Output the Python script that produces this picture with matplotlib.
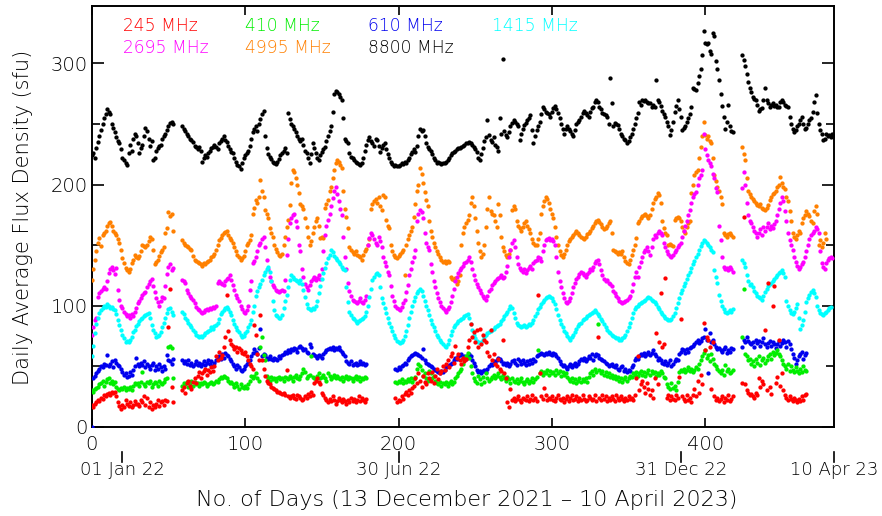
import numpy as np
import matplotlib
matplotlib.use("Agg")
import matplotlib.pyplot as plt
from matplotlib.ticker import MultipleLocator
from matplotlib.transforms import blended_transform_factory

plt.rcParams['font.family'] = ['DejaVu Sans']
plt.rcParams['font.weight'] = 'light'

N = None  # missing day

# Daily average flux density (sfu), day 0 = 13 Dec 2021 ... day 484 = 10 Apr 2023
f245 = [
    18,16,19,20,22,21,24,23,26,25, 27,28,26,29,28,29,25,20,17,15,
    18,16,22,19,17,20,16,18,21,19, 19,17,22,20,25,18,24,16,20,15,
    18,16,19,22,17,20,21,18,22,21, 82,114,33,20,N,N,N,N,N,30,
    33,28,36,38,34,31,37,40,36,42, 45,40,44,46,48,43,47,45,49,46,
    50,58,55,62,57,59,66,74,109,79, 72,68,67,64,66,62,65,63,61,60,
    62,58,55,52,50,48,84,76,60,55, 92,55,48,42,38,36,35,33,32,31,
    30,29,29,28,27,28,26,47,25,24, 25,26,24,23,26,25,24,22,23,25,
    24,27,25,29,26,36,38,40,37,35, 28,26,24,22,20,23,21,25,22,19,
    21,24,22,20,23,21,19,22,20,24, 21,23,20,22,25,21,24,22,20,23,
    N,N,N,N,N,N,N,N,N,N, N,N,N,N,N,N,N,N,24,20,
    22,21,25,23,27,29,26,30,28,32, 34,40,36,44,38,33,42,37,35,44,
    40,38,45,36,42,48,39,44,46,50, 47,52,55,49,58,61,53,67,57,60,
    55,52,57,54,56,66,72,85,74,78, 70,80,66,81,68,76,72,70,62,58,
    80,55,60,52,50,56,48,46,72,44, 40,20,16,31,22,24,21,23,25,22,
    20,24,23,22,25,21,23,26,22,24, 21,109,44,25,23,32,26,22,24,23,
    25,22,21,24,26,23,22,24,20,23, 25,21,24,26,22,23,25,21,24,22,
    26,23,21,22,25,24,22,23,26,21, 74,24,22,26,23,25,21,24,22,25,
    23,21,26,24,22,25,23,21,24,22, 25,23,24,22,26,40,58,30,35,38,
    33,28,36,31,26,30,24,40,77,35, 70,110,66,68,123,24,26,22,25,23,
    22,26,24,41,89,25,23,21,26,22, 24,20,26,31,25,38,28,43,35,86,
    63,74,72,66,31,70,25,22,24,21, 23,25,20,24,22,26,21,23,25,N,
    N,N,N,N,36,173,35,30,28,26, 27,25,24,28,26,40,33,38,35,80,
    30,119,33,27,100,116,36,41,72,34, 44,30,26,24,22,25,23,21,24,22,
    20,23,21,25,22,26,27,N,N,N, N,N,N,N,N,N,N,N,N,N,
    N,N,N,N,N,
]

f410 = [
    30,29,31,32,33,35,36,38,34,37, 39,40,36,38,35,37,33,31,30,32,
    31,33,30,32,31,33,30,34,36,35, 36,34,37,45,35,34,37,36,38,33,
    35,37,36,34,38,36,35,37,39,40, 66,67,65,40,N,N,N,N,N,34,
    36,35,37,33,36,38,34,37,35,36, 34,36,35,37,36,34,35,36,37,35,
    36,38,37,39,41,40,42,41,40,38, 36,37,35,33,36,34,31,35,33,32,
    34,32,35,38,42,40,42,44,40,38, 66,74,59,55,42,40,38,41,39,40,
    38,40,41,39,40,38,41,40,39,42, 40,38,41,43,40,39,42,44,48,45,
    40,42,43,58,41,40,39,42,44,40, 41,43,40,38,44,42,39,41,43,40,
    42,40,39,41,38,40,42,39,41,40, 38,40,42,39,41,38,40,39,41,40,
    N,N,N,N,N,N,N,N,N,N, N,N,N,N,N,N,N,N,37,36,
    38,37,39,36,38,37,39,38,40,37, 39,41,48,52,50,47,42,44,40,38,
    46,44,40,42,38,36,35,37,34,36, 35,37,34,36,38,35,37,40,42,44,
    46,48,52,55,58,61,57,50,44,40, 38,36,42,39,35,41,37,44,40,38,
    39,41,43,40,42,44,41,39,43,40, 38,41,39,36,40,38,37,39,36,38,
    40,37,35,38,39,36,38,40,37,39, 41,63,44,46,43,45,44,47,43,46,
    44,45,43,47,44,46,42,45,43,44, 41,39,38,40,37,39,36,38,40,37,
    39,38,40,37,41,44,46,43,48,45, 85,47,44,46,43,45,42,44,41,43,
    40,42,39,41,38,40,37,39,41,38, 40,42,41,44,43,45,42,44,46,43,
    45,42,44,47,43,46,44,45,42,44, 43,46,44,41,40,35,33,31,36,32,
    34,30,37,45,47,46,48,45,47,49, 46,48,45,47,49,48,52,55,58,61,
    63,57,59,54,60,56,52,50,48,46, 44,47,43,51,46,48,44,45,47,N,
    N,N,N,N,74,114,60,58,55,56, 52,54,50,56,53,58,51,55,57,53,
    55,58,60,56,62,59,61,63,60,58, 55,52,50,48,52,46,50,47,45,49,
    46,44,48,45,50,47,46,N,N,N, N,N,N,N,N,N,N,N,N,N,
    N,N,N,N,N,
]

f610 = [
    0,40,42,44,46,48,50,49,52,51, 59,50,52,54,49,55,53,51,50,48,
    45,43,44,41,42,45,43,47,50,57, 52,50,53,51,54,49,52,50,48,51,
    53,47,50,48,52,49,46,50,48,59, 55,54,52,56,N,N,N,N,N,55,
    53,54,52,55,51,53,50,52,54,51, 53,50,52,54,51,53,55,52,54,50,
    53,55,57,58,56,60,57,61,59,58, 56,54,52,50,48,51,49,47,46,48,
    50,52,54,55,58,61,64,62,60,65, 81,58,60,59,57,56,58,56,55,57,
    56,55,58,57,59,60,62,61,63,62, 64,63,65,64,62,66,67,65,63,64,
    62,61,68,66,60,59,58,57,59,58, 57,60,62,63,64,65,64,66,63,65,
    64,66,63,62,60,58,54,53,52,54, 51,52,53,51,52,54,52,53,51,52,
    N,N,N,N,N,N,N,N,N,N, N,N,N,N,N,N,N,N,48,47,
    49,48,50,51,53,52,55,57,58,59, 60,61,60,59,58,57,64,55,53,52,
    51,50,49,48,47,46,45,44,46,45, 47,49,50,51,52,53,55,57,56,58,
    59,60,57,58,56,59,60,58,55,53, 50,47,45,46,44,46,47,45,48,50,
    52,51,54,53,55,57,56,54,52,53, 51,53,50,52,54,55,53,51,56,54,
    52,55,53,51,54,52,55,53,56,54, 58,59,60,61,60,59,61,60,62,60,
    59,61,60,58,57,54,52,50,51,49, 48,50,52,49,51,53,50,52,54,56,
    55,57,54,56,58,57,60,55,58,60, 59,57,56,55,54,53,52,50,51,52,
    50,49,51,48,47,49,50,46,48,45, 47,46,49,51,55,57,56,58,60,59,
    61,58,60,62,59,61,63,60,58,55, 57,55,53,52,54,51,53,55,50,52,
    54,56,55,60,62,64,63,61,64,62, 65,66,67,68,70,72,69,71,73,74,
    81,72,44,77,70,72,68,66,64,65, 63,62,64,66,61,63,62,65,64,N,
    N,N,N,N,66,72,70,74,71,69, 68,70,66,72,69,71,67,70,73,68,
    66,69,71,67,70,68,65,68,71,67, 69,72,70,66,71,68,64,60,57,52,
    55,58,60,62,56,59,61,N,N,N, N,N,N,N,N,N,N,N,N,N,
    N,N,N,N,N,
]

f1415 = [
    58,67,77,85,90,94,96,98,100,99, 101,100,98,99,97,96,93,88,84,80,
    76,73,70,71,70,72,74,78,80,83, 85,87,89,90,91,92,93,94,90,84,
    80,77,74,75,76,78,82,86,90,94, 97,98,95,92,N,N,N,N,N,95,
    93,90,88,86,84,82,80,78,76,75, 74,75,74,76,77,78,79,80,82,81,
    83,84,86,89,93,95,96,98,99,97, 95,92,88,85,82,80,78,76,74,75,
    77,79,82,85,88,95,100,108,112,115, 118,121,125,128,130,132,128,120,104,96,
    92,91,90,90,92,98,104,109,115,121, 125,124,122,121,120,119,121,118,113,107,
    101,98,97,96,98,97,100,104,110,116, 122,127,131,135,139,142,146,144,141,139,
    138,136,134,132,130,129,115,103,95,92, 90,89,87,86,87,88,89,90,91,95,
    100,107,114,121,124,126,127,125,115,106, 102,98,94,90,86,82,79,76,73,71,
    70,69,70,72,75,79,84,90,95,100, 104,107,110,112,114,112,108,104,100,96,
    92,88,85,82,79,76,74,72,70,68, 67,66,68,72,76,79,82,84,86,87,
    88,89,90,91,92,93,90,85,80,76, 73,71,70,69,70,72,74,76,77,78,
    79,80,81,82,83,84,85,87,89,91, 93,95,97,100,98,94,90,86,84,83,
    82,83,84,82,83,85,84,86,88,91, 94,97,99,101,103,105,106,107,108,107,
    106,104,101,97,92,88,85,82,79,77, 75,73,72,74,76,78,81,83,85,86,
    88,89,90,91,92,93,94,95,96,95, 93,91,89,87,85,82,80,78,77,76,
    75,74,73,73,72,72,73,74,76,79, 82,86,90,94,97,99,100,101,102,103,
    104,105,106,107,106,105,104,103,101,99, 97,95,93,91,90,89,88,88,89,91,
    94,98,102,106,110,113,116,119,122,125, 128,131,134,137,140,143,146,149,152,154,
    153,152,150,148,146,144,129,124,119,109, 104,100,97,95,94,95,96,95,97,N,
    N,N,N,N,138,135,132,125,120,117, 118,115,112,110,108,107,106,105,108,111,
    114,116,118,119,120,122,124,125,127,128, 129,127,124,104,100,96,94,93,95,98,
    101,90,81,84,88,95,103,106,109,111, 113,110,107,100,96,94,93,92,94,95,
    96,98,99,N,N,
]

f2695 = [
    76,82,88,90,107,110,112,114,115,114, 120,127,130,132,129,126,131,113,105,100,
    98,95,93,91,92,90,93,91,95,98, 102,104,106,109,110,111,115,118,120,122,
    116,111,106,103,100,104,107,106,116,126, 132,134,129,131,N,N,N,N,N,121,
    120,119,113,110,108,106,105,102,99,97, 96,95,94,95,96,97,96,98,97,99,
    98,100,119,120,119,118,117,120,122,123, 125,121,117,113,109,106,104,100,97,95,
    94,96,100,113,120,135,137,140,145,150, 152,155,157,148,138,130,124,120,117,115,
    113,112,111,112,113,112,121,142,155,168, 172,175,176,170,165,150,145,130,124,118,
    115,113,117,120,122,124,121,123,125,122, 130,145,158,166,171,176,182,189,195,198,
    192,186,180,175,157,140,130,119,112,108, 105,104,103,102,104,106,103,102,105,108,
    150,156,160,158,155,152,150,157,153,148, 140,136,133,128,125,116,108,104,100,98,
    97,96,99,102,105,111,117,125,130,136, 140,146,170,176,179,177,172,160,152,148,
    146,134,128,120,115,110,106,103,100,98, 96,95,97,99,103,108,114,120,124,127,
    129,131,133,135,136,138,140,136,130,125, 121,118,115,113,110,108,106,105,108,112,
    114,117,119,120,122,123,124,125,123,124, 128,133,140,146,152,154,148,140,134,131,
    129,128,130,127,129,131,133,130,135,137, 138,140,139,137,145,150,154,155,156,154,
    155,153,150,140,128,120,115,110,106,103, 102,104,106,110,115,119,122,124,126,128,
    127,125,124,126,128,130,129,132,135,137, 138,134,129,125,122,120,121,119,118,116,
    112,110,108,106,104,103,102,103,104,105, 106,108,112,118,124,128,124,132,136,140,
    144,146,148,145,142,148,155,158,157,160, 162,160,158,152,148,145,143,141,140,142,
    144,146,148,150,152,157,162,166,170,175, 179,185,190,192,194,200,205,208,212,242,
    229,224,220,218,215,209,205,197,194,166, 154,140,132,130,131,129,132,130,128,N,
    N,N,N,N,197,210,200,185,175,170, 168,165,162,160,157,160,163,158,165,162,
    165,168,163,166,164,167,170,175,180,185, 190,186,178,170,160,154,150,146,140,136,
    133,130,132,134,136,140,145,150,155,158, 160,162,165,163,160,145,135,132,130,135,
    138,139,140,139,N,
]

f4995 = [
    121,130,138,145,152,156,149,158,160,162, 166,168,169,166,162,160,158,155,152,146,
    139,135,131,129,128,130,135,138,142,140, 139,141,145,150,149,148,150,153,157,155,
    146,134,136,138,141,144,146,148,160,164, 177,174,176,162,N,N,N,N,N,154,
    152,150,149,148,147,146,141,138,137,136, 135,134,133,135,134,136,137,138,140,141,
    143,146,150,154,156,158,160,161,162,158, 156,154,152,148,145,142,140,138,139,141,
    145,150,152,154,158,176,181,187,185,190, 204,195,190,179,176,172,164,160,157,150,
    147,144,142,141,143,150,157,165,171,183, 201,212,210,205,200,193,184,182,180,172,
    165,157,150,153,160,165,170,172,166,156, 157,156,181,184,187,195,198,205,212,218,
    220,219,216,214,195,180,173,164,148,146, 144,143,145,142,141,140,138,142,145,147,
    150,155,180,184,186,188,185,190,182,179, 191,190,171,166,164,150,145,142,140,139,
    141,143,144,146,125,150,155,158,162,165, 173,184,195,200,214,209,201,194,187,182,
    170,162,157,152,148,145,143,140,138,136, 137,135,137,136,124,122,121,123,118,120,
    125,150,160,165,168,171,175,185,190,182, 172,162,152,145,140,143,150,165,180,190,
    178,176,175,170,165,184,175,157,148,145, 142,140,143,146,179,182,180,170,166,164,
    162,165,168,170,166,163,160,155,152,150, 150,155,160,176,182,186,190,188,185,180,
    176,172,165,157,150,145,142,140,143,146, 150,153,155,157,158,160,162,160,158,157,
    156,155,157,159,160,162,164,166,168,170, 171,169,167,165,163,164,166,168,170,160,
    146,145,144,143,144,143,145,140,137,135, 134,138,142,146,150,156,168,170,172,174,
    175,176,174,172,175,180,185,188,190,193, 191,185,170,164,160,158,150,151,150,149,
    171,172,173,172,170,165,162,160,165,168, 170,193,200,208,210,212,222,231,240,252,
    241,238,240,236,234,222,208,203,198,195, 190,184,160,158,157,159,160,158,157,N,
    N,N,N,N,231,225,220,205,195,192, 190,188,186,185,183,182,184,181,180,179,
    181,183,187,190,192,193,195,198,200,206, 201,198,196,190,186,178,170,160,157,155,
    158,162,160,168,172,175,178,176,174,170, 168,178,182,176,150,154,148,152,160,155,
    N,N,N,N,N,
]

f8800 = [
    224,226,222,230,235,240,245,250,255,258, 262,260,258,250,247,243,239,236,234,229,
    222,220,218,216,226,233,228,238,242,240, 234,226,230,233,240,247,244,238,232,236,
    220,222,228,230,232,233,238,240,242,245, 248,251,252,250,N,N,N,N,N,248,
    246,244,242,240,238,237,235,232,231,229, 231,228,219,222,224,223,226,228,230,231,
    233,231,229,234,236,238,240,237,235,232, 229,227,226,222,219,216,215,213,218,222,
    224,226,228,232,238,243,246,248,244,250, 254,258,261,240,230,225,223,221,219,218,
    217,219,221,224,226,228,230,226,259,254, 250,248,246,243,240,238,236,238,233,228,
    226,222,218,225,234,230,226,222,220,224, 227,229,231,236,240,244,248,260,275,277,
    276,275,272,270,255,238,236,234,226,223, 222,220,219,218,217,216,218,222,228,233,
    237,239,236,234,232,238,237,232,227,230, 233,234,229,225,222,219,217,215,216,215,
    215,216,218,217,219,218,220,222,225,227, 229,227,232,240,246,244,245,240,234,231,
    229,228,225,222,220,218,219,218,217,218, 218,219,220,222,224,226,227,228,229,230,
    230,231,232,233,234,234,235,234,233,231, 229,227,222,220,225,230,236,239,253,241,
    237,235,239,233,231,228,255,242,304,244, 241,239,243,248,251,253,252,250,248,237,
    242,246,249,251,253,255,257,245,234,240, 245,248,252,258,264,262,260,259,258,256,
    260,263,265,262,259,255,250,246,242,246, 248,246,244,242,240,245,250,252,253,256,
    259,261,259,257,256,260,263,264,268,270, 268,264,262,259,258,257,256,250,288,267,
    248,251,250,249,246,242,240,238,237,234, 236,239,242,246,250,255,259,268,266,270,
    269,270,268,267,267,264,266,264,286,270, 268,265,261,258,256,252,248,241,245,252,
    260,265,270,262,256,245,247,248,252,255, 258,264,280,279,278,284,290,295,307,327,
    317,316,317,310,308,325,323,302,295,286, 275,265,256,246,252,266,248,244,243,N,
    N,N,N,N,307,303,298,291,285,280, 276,272,271,270,266,261,262,263,270,280,
    270,267,264,266,267,265,266,264,264,268, 270,268,266,265,264,256,250,246,243,245,
    248,250,253,256,250,246,247,250,253,255, 260,268,274,259,250,245,242,237,238,242,
    240,241,239,242,240,
]

labels = ["245 MHz", "410 MHz", "610 MHz", "1415 MHz",
          "2695 MHz", "4995 MHz", "8800 MHz"]
colors = ["#ff0000", "#00ee00", "#0000ee", "#00ffff",
          "#ff00ff", "#ff8000", "#000000"]
data = [f245, f410, f610, f1415, f2695, f4995, f8800]

date_days = [20, 200, 384, 484]
date_labels = ["01 Jan 22", "30 Jun 22", "31 Dec 22", "10 Apr 23"]

for name, d in zip(labels, data):
    assert len(d) == 485, (name, len(d))

days = np.arange(485)

fig = plt.figure(figsize=(8.82, 5.16), dpi=100)
ax = fig.add_axes([0.1041, 0.1731, 0.8415, 0.8159])

for lab, col, vals in reversed(list(zip(labels, colors, data))):
    y = np.array([np.nan if v is None else v for v in vals], dtype=float)
    ax.scatter(days, y, s=9.5, c=col, linewidths=0, zorder=3)

ax.set_xlim(0, 484)
ax.set_ylim(0, 347.7)
ax.xaxis.set_major_locator(MultipleLocator(100))
ax.yaxis.set_major_locator(MultipleLocator(100))
ax.yaxis.set_minor_locator(MultipleLocator(50))
ax.tick_params(axis='x', which='major', direction='in', top=True,
               length=6.5, width=1.2, labelsize=14, pad=6)
ax.tick_params(axis='y', which='major', direction='in', right=True,
               length=8.5, width=1.2, labelsize=14, pad=3)
ax.tick_params(axis='y', which='minor', direction='in', right=True,
               length=6, width=1.2)
for sp in ax.spines.values():
    sp.set_linewidth(1.4)

# legend text rows
leg_pos = [(20.4, 326.8), (100, 326.8), (180.2, 326.8), (261, 326.8),
           (20.4, 308.7), (100, 308.7), (180.2, 308.7)]
for lab, col, (x, y) in zip(labels, colors, leg_pos):
    ax.text(x, y, lab, color=col, fontsize=12.3, ha='left', va='baseline')

# date markers under the axis
trans = blended_transform_factory(ax.transData, ax.transAxes)
for d, lab in zip(date_days, date_labels):
    ax.plot([d, d], [-0.0601, -0.0838], transform=trans, clip_on=False,
            color='k', lw=1.2)
    ax.text(d, -0.104, lab, transform=trans, ha='center', va='center',
            fontsize=13)

fig.text(467 / 882, 1 - 506 / 516,
         "No. of Days (13 December 2021 \u2013 10 April 2023)",
         ha='center', va='baseline', fontsize=16)
fig.text(23 / 882, 1 - 217 / 516, "Daily Average Flux Density (sfu)",
         rotation=90, ha='center', va='center', fontsize=15)

fig.savefig("out.png", dpi=100)
